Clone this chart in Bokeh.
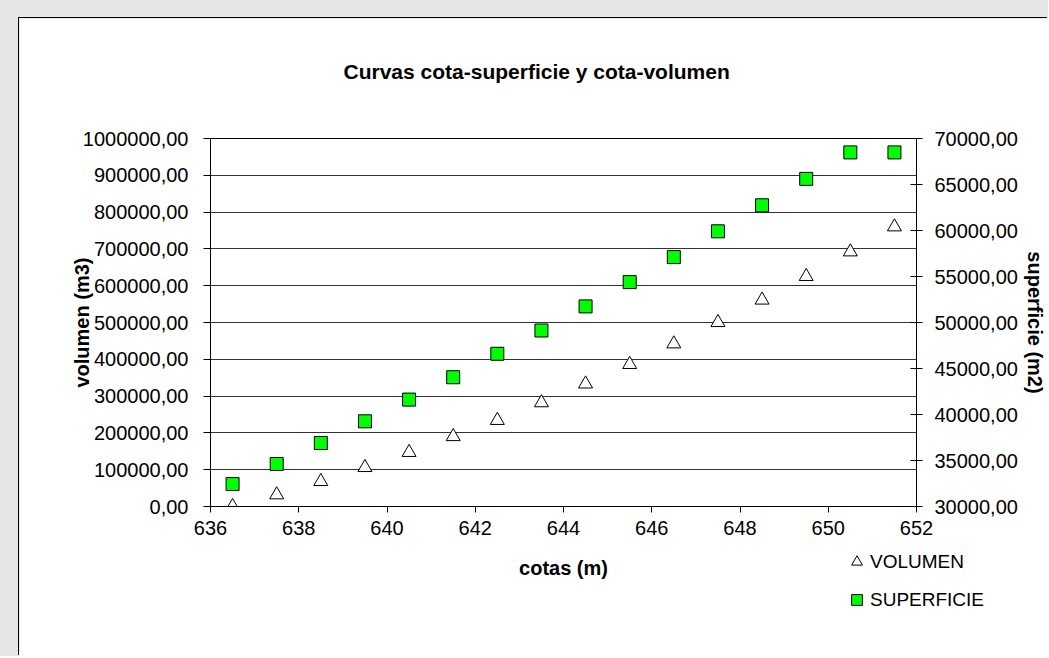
from bokeh.plotting import figure
from bokeh.models import (Range1d, LinearAxis, FixedTicker, CustomJSTickFormatter,
                          Legend, LegendItem, Title, GridBox, Plot)
from bokeh.embed import file_html
from bokeh.resources import INLINE

# ---- data ----
cotas = [636.5, 637.5, 638.5, 639.5, 640.5, 641.5, 642.5, 643.5,
         644.5, 645.5, 646.5, 647.5, 648.5, 649.5, 650.5, 651.5]
volumen = [0, 31800, 68000, 106000, 147000, 190000, 234000, 282000,
           333000, 386000, 442000, 500000, 561000, 625000, 692000, 760000]
superficie = [32440, 34620, 36900, 39260, 41620, 44050, 46600, 49130,
              51750, 54390, 57110, 59910, 62740, 65610, 68490, 68490]

x_ticks = [636, 638, 640, 642, 644, 646, 648, 650, 652]
volumen_ticks = [0, 100000, 200000, 300000, 400000, 500000,
                 600000, 700000, 800000, 900000, 1000000]
superficie_ticks = [30000, 35000, 40000, 45000, 50000, 55000, 60000, 65000, 70000]

title_text = "Curvas cota-superficie y cota-volumen"
x_label = "cotas (m)"
yl_label = "volumen (m3)"
yr_label = "superficie (m2)"
legend_labels = ["VOLUMEN", "SUPERFICIE"]

FONT = "Liberation Sans"
TICK_SIZE = "20px"
LABEL_SIZE = "20px"
LEGEND_SIZE = "19px"

FMT_CODE = "return tick.toFixed(2).replace('.', ',');"

TRI = dict(marker="triangle", size=14, fill_color="white", line_color="black", line_width=1)
SQR = dict(marker="square", size=13, fill_color="#00ff00", line_color="black", line_width=1)

W, H = 1048, 656
HAS_FRAME_ALIGN = "frame_align" in Plot.properties()

# ---------------- main chart ----------------
p = figure(width=W - 19, height=H - 18, output_backend="svg", toolbar_location=None,
           title=None,
           x_range=Range1d(x_ticks[0], x_ticks[-1]),
           y_range=Range1d(volumen_ticks[0], volumen_ticks[-1]),
           min_border_left=191, min_border_right=131,
           min_border_top=120, min_border_bottom=150,
           background_fill_color="white", border_fill_color="white",
           outline_line_color="black", outline_line_width=1)
p.margin = (18, 0, 0, 19)
p.styles = {"box-shadow": "-1px -1px 0px 0px #000000"}
if HAS_FRAME_ALIGN:
    p.frame_align = False

# grid
p.xgrid.visible = False
p.ygrid.grid_line_color = "#333333"
p.ygrid.grid_line_width = 1

# x axis
xa = p.xaxis[0]
xa.ticker = FixedTicker(ticks=x_ticks)
xa.axis_label = x_label
xa.axis_label_text_font = FONT
xa.axis_label_text_font_size = LABEL_SIZE
xa.axis_label_text_font_style = "bold"
xa.axis_label_text_color = "black"
xa.axis_label_standoff = 19
xa.major_label_text_font = FONT
xa.major_label_text_font_size = TICK_SIZE
xa.major_label_text_color = "black"
xa.major_label_standoff = 8
xa.major_tick_in = 0
xa.major_tick_out = 6
xa.minor_tick_line_color = None
xa.axis_line_color = "black"
xa.major_tick_line_color = "black"

# left y axis (volumen)
ya = p.yaxis[0]
ya.ticker = FixedTicker(ticks=volumen_ticks)
ya.formatter = CustomJSTickFormatter(code=FMT_CODE)
ya.axis_label = yl_label
ya.axis_label_text_font = FONT
ya.axis_label_text_font_size = LABEL_SIZE
ya.axis_label_text_font_style = "bold"
ya.axis_label_text_color = "black"
ya.axis_label_standoff = -13
ya.major_label_text_font = FONT
ya.major_label_text_font_size = TICK_SIZE
ya.major_label_text_color = "black"
ya.major_label_standoff = 15
ya.major_tick_in = 0
ya.major_tick_out = 7
ya.minor_tick_line_color = None
ya.axis_line_color = "black"
ya.major_tick_line_color = "black"

# right y axis (superficie)
p.extra_y_ranges = {"sup": Range1d(superficie_ticks[0], superficie_ticks[-1])}
ra = LinearAxis(y_range_name="sup", ticker=FixedTicker(ticks=superficie_ticks),
                formatter=CustomJSTickFormatter(code=FMT_CODE),
                axis_label=yr_label)
ra.axis_label_text_font = FONT
ra.axis_label_text_font_size = LABEL_SIZE
ra.axis_label_text_font_style = "bold"
ra.axis_label_text_color = "black"
ra.axis_label_standoff = 3
ra.major_label_text_font = FONT
ra.major_label_text_font_size = TICK_SIZE
ra.major_label_text_color = "black"
ra.major_label_standoff = 12
ra.major_tick_in = 6
ra.major_tick_out = 6
ra.minor_tick_line_color = None
ra.axis_line_color = "black"
ra.major_tick_line_color = "black"
p.add_layout(ra, "right")

# data
r_vol = p.scatter(cotas, volumen, **TRI)
r_sup = p.scatter(cotas, superficie, y_range_name="sup", **SQR)

# ---------------- transparent overlay: title + legend ----------------
# Same size as the main chart's cell; its frame starts just below the title and
# its legend glyph renderers hold the same series but lie outside its (0..1) view.
title = Title(text=title_text, align="left", offset=343, standoff=0,
              text_font=FONT, text_font_size="21px", text_font_style="bold",
              text_color="black")
po = figure(width=W, height=H, output_backend="svg", toolbar_location=None,
            title=title, x_axis_location=None, y_axis_location=None,
            min_border_left=0, min_border_right=0, min_border_top=82, min_border_bottom=0,
            x_range=Range1d(0, 1), y_range=Range1d(0, 1),
            background_fill_color=None, border_fill_color=None,
            outline_line_color=None)
if HAS_FRAME_ALIGN:
    po.frame_align = False
po.grid.visible = False
l_vol = po.scatter(cotas, volumen, **TRI)
l_sup = po.scatter(cotas, superficie, **SQR)
legend = Legend(items=[LegendItem(label=legend_labels[0], renderers=[l_vol]),
                       LegendItem(label=legend_labels[1], renderers=[l_sup])],
                location=(843, 43), orientation="vertical",
                border_line_color=None, background_fill_alpha=0,
                padding=0, margin=0, spacing=11,
                glyph_width=27, glyph_height=27, label_standoff=-5,
                label_text_font=FONT, label_text_font_size=LEGEND_SIZE,
                label_text_color="black")
po.add_layout(legend)

root = GridBox(children=[(p, 0, 0), (po, 0, 0)],
               styles={"background-color": "#e6e6e6"})

open("out.html", "w").write(file_html(root, INLINE))
